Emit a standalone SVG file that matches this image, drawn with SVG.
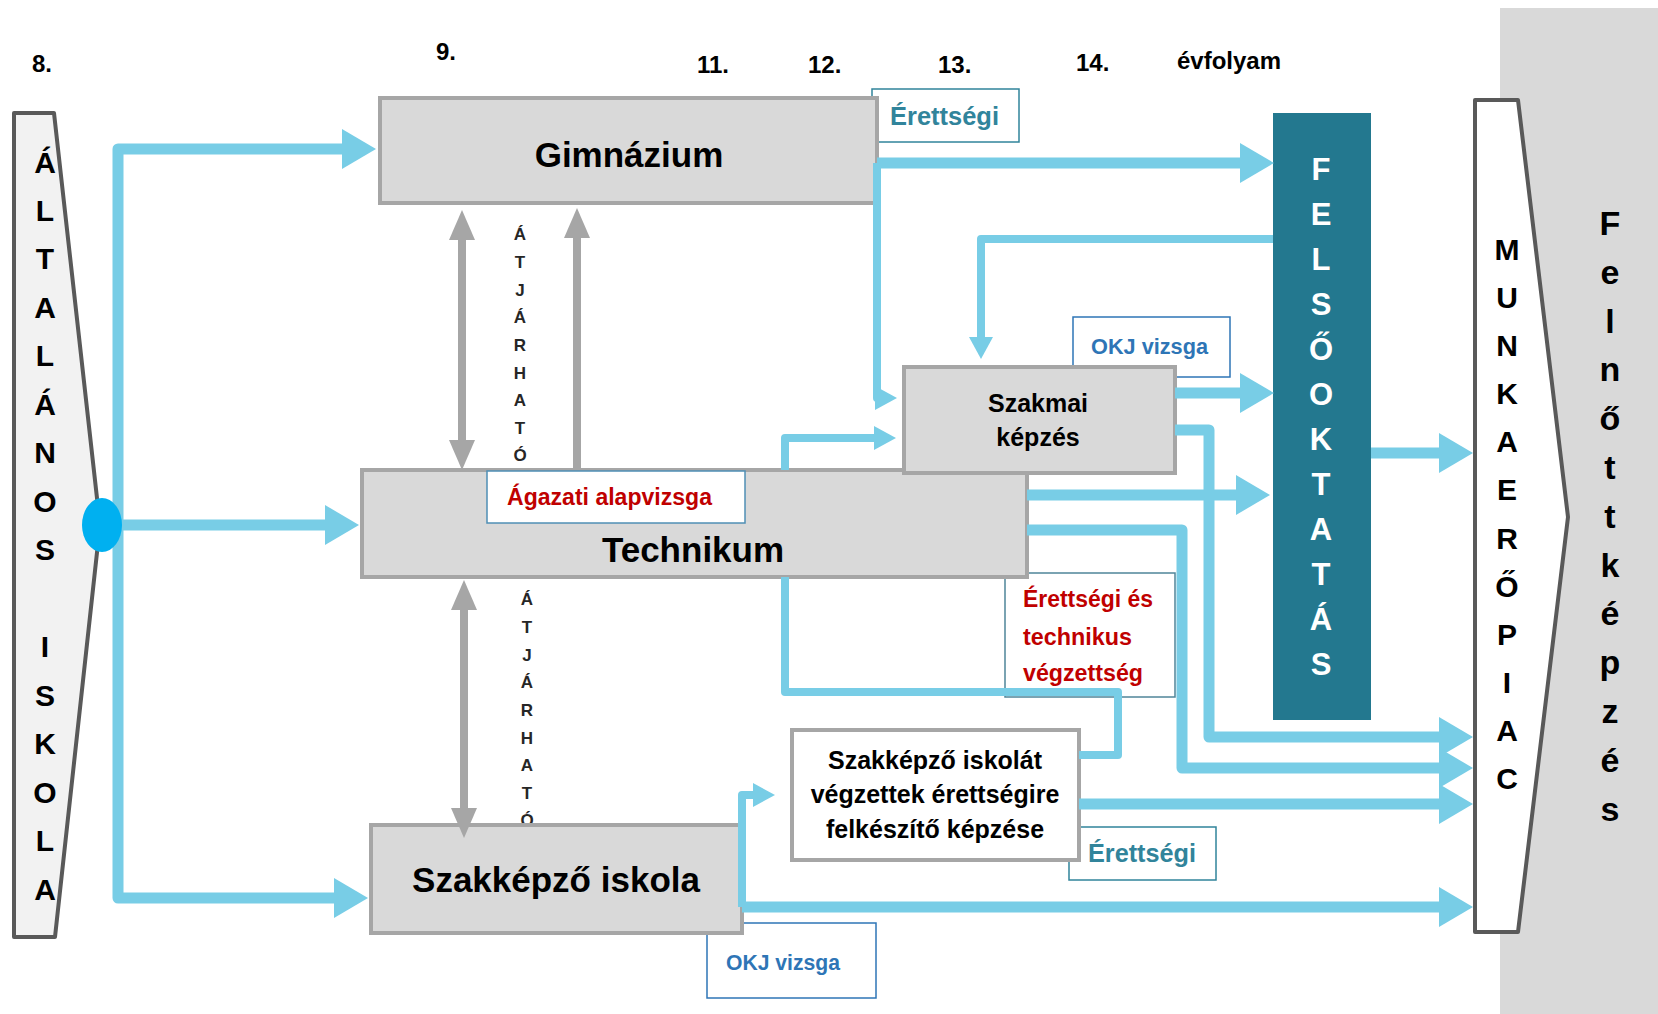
<svg xmlns="http://www.w3.org/2000/svg" width="1658" height="1014" viewBox="0 0 1658 1014">
<defs>
<style>
text{font-family:"Liberation Sans",Arial,sans-serif;font-weight:bold;}
.node{fill:#d9d9d9;stroke:#a6a6a6;stroke-width:4;}
.wnode{fill:#ffffff;stroke:#a6a6a6;stroke-width:4;}
.yr{font-size:24px;fill:#000;}
.big{font-size:35px;fill:#000;text-anchor:middle;}
.mid{font-size:25px;fill:#000;text-anchor:middle;}
.teal{fill:#31849b;font-size:25px;}
.okj{fill:#2e75b6;font-size:22px;}
.red{fill:#c00000;font-size:23px;}
.lbl{fill:#ffffff;stroke-width:1.5;}
.col{text-anchor:middle;}
.atj{font-size:17px;fill:#262626;text-anchor:middle;}
.bl{fill:none;stroke:#78cde6;stroke-width:11;stroke-linejoin:round;}
.bs{fill:none;stroke:#78cde6;stroke-width:8;stroke-linejoin:round;}
.gr{fill:none;stroke:#a6a6a6;stroke-width:8;}
</style>
<marker id="hb" viewBox="0 0 34 40" refX="24" refY="20" markerWidth="34" markerHeight="40" markerUnits="userSpaceOnUse" orient="auto"><path d="M0,0 L34,20 L0,40 Z" fill="#78cde6"/></marker>
<marker id="hs" viewBox="0 0 22 24" refX="14" refY="12" markerWidth="22" markerHeight="24" markerUnits="userSpaceOnUse" orient="auto"><path d="M0,0 L22,12 L0,24 Z" fill="#78cde6"/></marker>
<marker id="hg" viewBox="0 0 30 26" refX="20" refY="13" markerWidth="30" markerHeight="26" markerUnits="userSpaceOnUse" orient="auto-start-reverse"><path d="M0,0 L30,13 L0,26 Z" fill="#a6a6a6"/></marker>
</defs>
<rect x="0" y="0" width="1658" height="1014" fill="#ffffff"/>
<rect x="1500" y="8" width="158" height="1006" fill="#d9d9d9"/>

<g id="years">
<text class="yr" x="32" y="72">8.</text>
<text class="yr" x="436" y="60">9.</text>
<text class="yr" x="697" y="73">11.</text>
<text class="yr" x="808" y="73">12.</text>
<text class="yr" x="938" y="73">13.</text>
<text class="yr" x="1076" y="71">14.</text>
<text class="yr" x="1177" y="69">évfolyam</text>
</g>

<g id="altalanos-iskola">
<polygon points="14,113 54,113 100,525 55,937 14,937" fill="#f2f2f2" stroke="#595959" stroke-width="4" stroke-linejoin="round"/>
<g class="col" font-size="30" fill="#000">
<text x="45" y="173">Á</text>
<text x="45" y="221">L</text>
<text x="45" y="269">T</text>
<text x="45" y="318">A</text>
<text x="45" y="366">L</text>
<text x="45" y="415">Á</text>
<text x="45" y="463">N</text>
<text x="45" y="512">O</text>
<text x="45" y="560">S</text>
<text x="45" y="657">I</text>
<text x="45" y="706">S</text>
<text x="45" y="754">K</text>
<text x="45" y="803">O</text>
<text x="45" y="851">L</text>
<text x="45" y="900">A</text>
</g>
</g>

<g id="label-erettsegi-top">
<rect class="lbl" x="872" y="89" width="147" height="53" stroke="#31849b"/>
<text class="teal" x="890" y="125" textLength="109" lengthAdjust="spacingAndGlyphs">Érettségi</text>
</g>
<g id="label-okj-top">
<rect class="lbl" x="1073" y="317" width="157" height="60" stroke="#2e75b6"/>
<text class="okj" x="1091" y="354" textLength="117" lengthAdjust="spacingAndGlyphs">OKJ vizsga</text>
</g>
<g id="label-erettsegi-technikus">
<rect class="lbl" x="1005" y="573" width="170" height="124" stroke="#4f8599"/>
<text class="red" x="1023" y="607" textLength="130" lengthAdjust="spacingAndGlyphs">Érettségi és</text>
<text class="red" x="1023" y="645" textLength="109" lengthAdjust="spacingAndGlyphs">technikus</text>
<text class="red" x="1023" y="681" textLength="120" lengthAdjust="spacingAndGlyphs">végzettség</text>
</g>
<g id="label-erettsegi-bottom">
<rect class="lbl" x="1069" y="827" width="147" height="53" stroke="#31849b"/>
<text class="teal" x="1088" y="862" textLength="108" lengthAdjust="spacingAndGlyphs">Érettségi</text>
</g>
<g id="label-okj-bottom">
<rect class="lbl" x="707" y="923" width="169" height="75" stroke="#2e75b6"/>
<text class="okj" x="726" y="970" textLength="114" lengthAdjust="spacingAndGlyphs">OKJ vizsga</text>
</g>

<g id="atjarhato-upper">
<text class="atj" x="520" y="240">Á</text>
<text class="atj" x="520" y="268">T</text>
<text class="atj" x="520" y="296">J</text>
<text class="atj" x="520" y="323">Á</text>
<text class="atj" x="520" y="351">R</text>
<text class="atj" x="520" y="379">H</text>
<text class="atj" x="520" y="406">A</text>
<text class="atj" x="520" y="434">T</text>
<text class="atj" x="520" y="461">Ó</text>
</g>
<g id="atjarhato-lower">
<text class="atj" x="527" y="605">Á</text>
<text class="atj" x="527" y="633">T</text>
<text class="atj" x="527" y="661">J</text>
<text class="atj" x="527" y="688">Á</text>
<text class="atj" x="527" y="716">R</text>
<text class="atj" x="527" y="744">H</text>
<text class="atj" x="527" y="771">A</text>
<text class="atj" x="527" y="799">T</text>
<text class="atj" x="527" y="826">Ó</text>
</g>

<g id="gimnazium">
<rect class="node" x="380" y="98" width="497" height="105"/>
<text class="big" x="629" y="167">Gimnázium</text>
</g>
<g id="technikum">
<rect class="node" x="362" y="470" width="665" height="107"/>
<text class="big" x="693" y="562" font-size="34">Technikum</text>
</g>
<g id="label-agazati">
<rect class="lbl" x="487" y="471" width="258" height="52" stroke="#4f8fb5"/>
<text class="red" x="507" y="505" textLength="205" lengthAdjust="spacingAndGlyphs">Ágazati alapvizsga</text>
</g>
<g id="szakmai-kepzes">
<rect class="node" x="904" y="367" width="271" height="106"/>
<text class="mid" x="1038" y="412" font-size="27">Szakmai</text>
<text class="mid" x="1038" y="446" font-size="27">képzés</text>
</g>
<g id="szakkepzo-iskolat">
<rect class="wnode" x="792" y="730" width="287" height="130"/>
<text class="mid" x="935" y="769">Szakképző iskolát</text>
<text class="mid" x="935" y="803">végzettek érettségire</text>
<text class="mid" x="935" y="838">felkészítő képzése</text>
</g>
<g id="szakkepzo-iskola">
<rect class="node" x="371" y="825" width="371" height="108"/>
<text class="big" x="556" y="892">Szakképző iskola</text>
</g>
<g id="felsooktatas">
<rect x="1273" y="113" width="98" height="607" fill="#23788f"/>
<g class="col" font-size="31" fill="#ffffff">
<text x="1321" y="180">F</text>
<text x="1321" y="225">E</text>
<text x="1321" y="270">L</text>
<text x="1321" y="315">S</text>
<text x="1321" y="360">Ő</text>
<text x="1321" y="405">O</text>
<text x="1321" y="450">K</text>
<text x="1321" y="495">T</text>
<text x="1321" y="540">A</text>
<text x="1321" y="585">T</text>
<text x="1321" y="630">Á</text>
<text x="1321" y="675">S</text>
</g>
</g>
<g id="munkaeropiac">
<polygon points="1475,100 1518,100 1568,517 1518,932 1475,932" fill="#ffffff" stroke="#595959" stroke-width="4" stroke-linejoin="round"/>
<g class="col" font-size="30" fill="#000">
<text x="1507" y="260">M</text>
<text x="1507" y="308">U</text>
<text x="1507" y="356">N</text>
<text x="1507" y="404">K</text>
<text x="1507" y="452">A</text>
<text x="1507" y="500">E</text>
<text x="1507" y="549">R</text>
<text x="1507" y="597">Ő</text>
<text x="1507" y="645">P</text>
<text x="1507" y="693">I</text>
<text x="1507" y="741">A</text>
<text x="1507" y="789">C</text>
</g>
</g>
<g id="felnottkepzes">
<g class="col" font-size="34" fill="#000">
<text x="1610" y="235">F</text>
<text x="1610" y="284">e</text>
<text x="1610" y="333">l</text>
<text x="1610" y="381">n</text>
<text x="1610" y="430">ő</text>
<text x="1610" y="479">t</text>
<text x="1610" y="528">t</text>
<text x="1610" y="577">k</text>
<text x="1610" y="625">é</text>
<text x="1610" y="674">p</text>
<text x="1610" y="723">z</text>
<text x="1610" y="772">é</text>
<text x="1610" y="821">s</text>
</g>
</g>

<g id="connectors">
<path class="bl" d="M118,525 V149 H366" marker-end="url(#hb)"/>
<path class="bl" d="M118,525 V898 H358" marker-end="url(#hb)"/>
<path class="bl" d="M102,525 H349" marker-end="url(#hb)"/>
<path class="bl" d="M877,163 H1264" marker-end="url(#hb)"/>
<path class="bs" d="M877,163 V398 H889" marker-end="url(#hs)"/>
<path class="bs" d="M1273,239 H981 V351" marker-end="url(#hs)"/>
<path class="bs" d="M785,470 V438 H888" marker-end="url(#hs)"/>
<path class="bl" d="M1175,393 H1264" marker-end="url(#hb)"/>
<path class="bl" d="M1027,495 H1260" marker-end="url(#hb)"/>
<path class="bl" d="M1371,453 H1463" marker-end="url(#hb)"/>
<path class="bl" d="M1175,430 H1209 V737 H1463" marker-end="url(#hb)"/>
<path class="bl" d="M1027,530 H1182 V768 H1463" marker-end="url(#hb)"/>
<path class="bl" d="M1079,804 H1463" marker-end="url(#hb)"/>
<path class="bs" d="M785,577 V692 H1118 V755 H1079"/>
<path class="bs" d="M742,907 V795 H767" stroke-width="9" marker-end="url(#hs)"/>
<path class="bl" d="M742,907 H1463" stroke-width="12" marker-end="url(#hb)"/>
<path class="gr" d="M462,220 V460" marker-start="url(#hg)" marker-end="url(#hg)"/>
<path class="gr" d="M577,470 V218" marker-end="url(#hg)"/>
<path class="gr" d="M464,590 V828" marker-start="url(#hg)" marker-end="url(#hg)"/>
</g>
<ellipse id="branch-point" cx="102" cy="525" rx="20" ry="27" fill="#00b0f0"/>
</svg>
